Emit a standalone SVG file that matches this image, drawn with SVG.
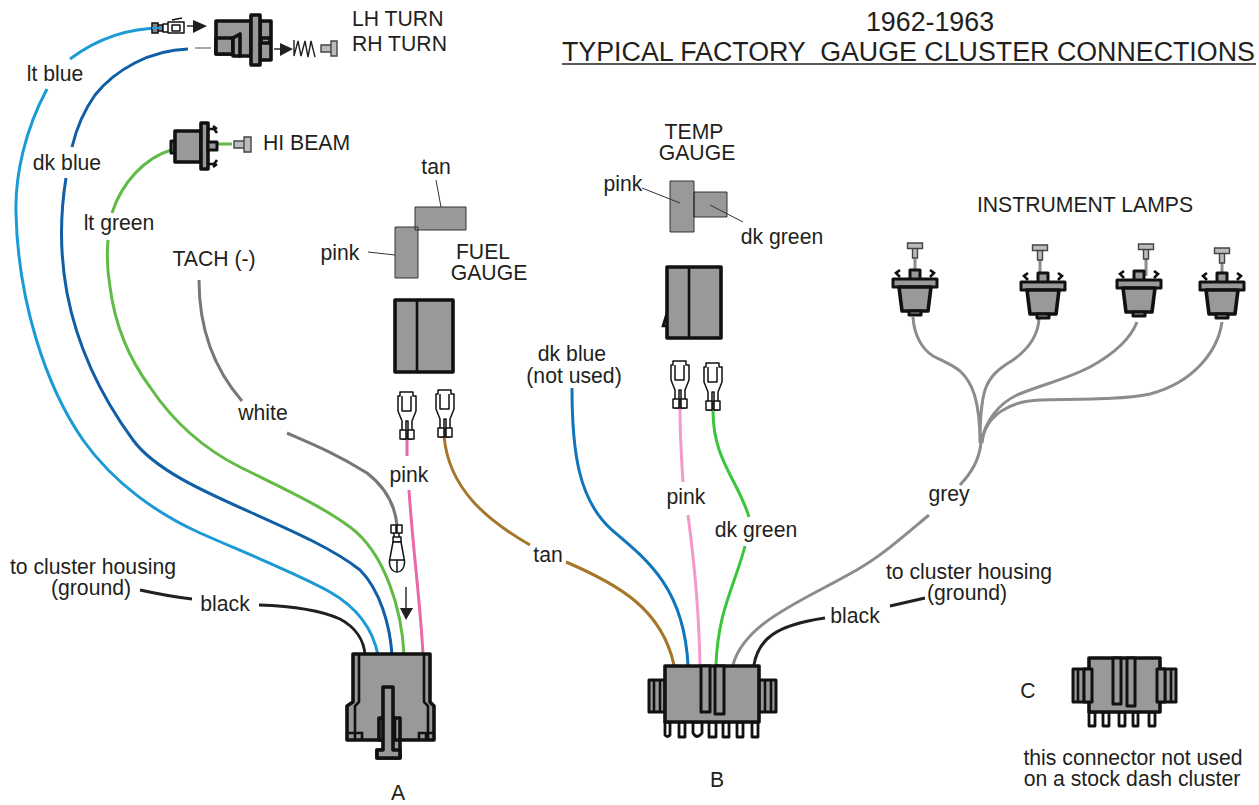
<svg xmlns="http://www.w3.org/2000/svg" width="1259" height="805" viewBox="0 0 1259 805">
<style>
text{font-family:"Liberation Sans",Arial,sans-serif;font-size:21.2px;fill:#231f20}
.m{text-anchor:middle}
.t{font-size:26.8px;white-space:pre}
.w{fill:none;stroke-width:3;stroke-linecap:butt}
.b{fill:#999;stroke:#111;stroke-width:3.600;stroke-linejoin:round}
.s{fill:#999;stroke:#111;stroke-width:3;stroke-linejoin:round}
.h{fill:none;stroke:#111;stroke-width:2.600}
.f{fill:#fff;stroke:#111;stroke-width:1.500;stroke-linejoin:round}
.p{fill:#fff;stroke:#111;stroke-width:2.800;stroke-linejoin:round}
.g{fill:#999;stroke:#222;stroke-width:.9}
.l{fill:#bbb;stroke:#444;stroke-width:1.400}
.ld{fill:none;stroke:#333;stroke-width:1}
.a{fill:#231f20}
.al{fill:none;stroke:#231f20;stroke-width:1.400}
</style>
<defs>
<g id="term">
<path class="f" d="M-9 4V19L-5 29V47H-1V29H1V47H5V29L9 19V4H6V0H-7V4Z"/>
<path class="f" d="M-5 4V19H4V4M-7 38H-1V47H-7ZM1 38H7V47H1Z"/>
</g>
<g id="lamp">
<path class="s" d="M-5 34V25H5V34"/>
<path class="s" d="M-22 34H22V42H-22Z"/>
<path class="b" d="M-16 42H16L13 66H-13Z"/>
<path class="s" d="M-6 66H6V70H-6Z"/>
<path class="h" d="M-15 25L-19 28L-15 32M15 25L19 28L15 32"/>
</g>
<g id="bulb"><path class="l" d="M-2.500 5H2.500V15H-2.500Z"/><path class="l" d="M-7.500 0H7.500V5.500H-7.500Z"/></g>
</defs>
<g id="connectors">
<path class="w" stroke="#1b9ad6" d="M162 28C130 28 98 38 70 59M47 89C25 130 15 175 16 213C18 300 45 385 83 440C115 485 160 515 200 533C250 555 300 575 330 592C358 608 373 630 378 655"/>
<path class="w" stroke="#0f5ea6" d="M188 49C150 50 115 70 95 95C83 112 76 130 72 147M66 178C60 215 60 255 67 293C77 345 100 395 133 440C155 470 205 492 250 512C295 532 335 550 360 570C380 590 390 625 392 655"/>
<path class="w" stroke="#62bb46" d="M171 150C145 158 122 182 112 213M108 240C106 262 108 275 110 287C115 325 130 360 150 387C170 417 200 447 240 467C280 487 320 505 350 527C385 553 402 610 404 655"/>
<path class="w" stroke="#62bb46" d="M217 144H232"/>
<path class="w" stroke="#e968a8" d="M407 438V456M409 490C413 550 421 610 423 655"/>
<path class="w" stroke="#a5772a" d="M444 435C448 490 490 522 530 545M566 562C620 585 662 610 674 665"/>
<path class="w" stroke="#0f75bc" d="M572 388C572 450 578 500 612 530C650 562 684 590 688 665"/>
<path class="w" stroke="#f49ac9" d="M680 408C680 440 682 465 683 482M688 515C694 560 699 610 700 665"/>
<path class="w" stroke="#39c63c" d="M713 411C713 460 738 480 749 517M745 546C735 585 718 610 716 665"/>
<path class="w" stroke="#8c8c8c" d="M733 665C745 620 810 598 860 568C885 553 905 535 929 515M960 485C972 472 979 460 981 443"/>
<path class="w" stroke="#8c8c8c" d="M913 317C914 335 922 349 933 356C945 362 953 365 960 371C972 382 980 400 980 443M1039 319C1038 335 1030 348 1013 360C1000 368 990 375 985 390C981 403 980 420 980 443M1137 322C1130 340 1112 355 1090 367C1065 380 1040 385 1017 395C1000 403 985 420 981 443M1222 322C1218 350 1195 382 1150 394C1120 400 1080 399 1040 400C1010 401 985 415 982 443"/>
<path class="w" stroke="#777" d="M199 280C199 330 215 370 242 401M287 433C310 443 335 453 367 473C385 487 395 505 397 525"/>
<path class="w" stroke="#231f20" d="M365 655C364 640 355 627 340 619C320 610 290 606 259 605M140 590C158 594 175 597 192 599"/>
<path class="w" stroke="#231f20" d="M754 665C758 640 775 625 825 618M890 606L925 598"/>
<path d="M195 48H211" stroke="#888" stroke-width="1.500"/>
<path class="w" stroke="#8c8c8c" d="M915 259V270M1040 258V278M1146 256V276M1222 260V278"/>
</g>
<g id="lh-turn-socket">
<path fill="#888" stroke="#111" stroke-width="1.500" d="M152 23H158V33H152ZM158 25H163V31H158Z"/>
<path class="f" d="M163 24H168V32H163ZM168 22H184V33H168ZM172 25H180V31H172ZM172 20L182 18"/>
<path d="M152 28H162" stroke="#1b9ad6" stroke-width="2"/>
<path class="al" d="M187 26H193"/><path class="a" d="M193 20L207 26L193 33Z"/>
<path class="b" d="M216 21H251V56H240L233 54H216Z"/>
<path class="b" d="M216 38H233V54H216Z"/><path class="b" d="M233 38L240 34V56H233Z"/>
<path class="b" d="M260 21H271V60H260Z"/>
<path class="b" d="M251 15H260V65H251Z"/>
<path class="b" d="M261 38H270V43H261Z"/>
<path class="al" d="M274 49H280"/><path class="a" d="M280 43L293 49L280 56Z"/>
<path class="al" d="M294 40V56L298 41L301 56L305 41L308 57L311 41L315 57"/>
<path class="l" d="M321 45H331V52H321ZM331 41H337V56H331Z"/>
</g>
<g id="hi-beam-socket">
<path class="s" d="M171 141H175V153H171Z"/>
<path class="b" d="M175 131H201V162H175Z"/>
<path class="b" d="M201 123H208V169H201Z"/>
<path class="s" d="M208 142H217V150H208Z"/>
<path class="h" d="M209 129H214L217 133M213 126L217 129M209 164H214L217 160M213 167L217 164"/>
<path class="l" d="M234 141H244V148H234ZM244 137H251V152H244Z"/>
</g>
<g id="fuel-gauge">
<path class="g" d="M415 207H466V230H415ZM395 227H418V278H395Z"/>
<path class="ld" d="M368 252L395 255M436 180L441 207"/>
<path class="b" d="M395 300H453V372H395Z"/><path class="h" stroke-width="3" d="M417 300V372"/>
<use href="#term" x="407" y="392"/><use href="#term" x="445" y="390"/>
</g>
<g id="temp-gauge">
<path class="g" d="M670 181H694V232H670ZM694 192H727V217H694Z"/>
<path class="ld" d="M642 188L680 203M710 205L743 222"/>
<path class="h" d="M667 313L663 326H667"/>
<path class="b" d="M667 267H721V338H667Z"/><path class="h" stroke-width="3" d="M689 267V338"/>
<use href="#term" x="680" y="361"/><use href="#term" x="713" y="363"/>
</g>
<g id="lamp-1"><use href="#bulb" x="915" y="243"/><use href="#lamp" x="915" y="245"/></g>
<g id="lamp-2"><use href="#bulb" x="1040" y="245"/><use href="#lamp" x="1043" y="248"/></g>
<g id="lamp-3"><use href="#bulb" x="1146" y="244"/><use href="#lamp" x="1139" y="246"/></g>
<g id="lamp-4"><use href="#bulb" x="1222" y="248"/><use href="#lamp" x="1222" y="248"/></g>
<g id="tach-terminal">
<path class="f" stroke-width="1.200" d="M391 525H396V533H391ZM397 525H402V533H397ZM393 537H401V542H393Z"/>
<path class="f" stroke-width="1.200" d="M394 533V537M399 533V537M393 542L390 558C388 566 392 572 397 572C402 572 406 566 404 558L401 542Z"/>
<path class="f" stroke-width="1.200" d="M397 560V572M390 560H404"/>
</g>
<g id="arrow"><path class="al" stroke="#555" d="M406 587V608"/><path class="a" d="M400 608H413L406 620Z"/></g>
<g id="connector-a">
<path class="b" d="M353 654H430V702L434 706V740H400V758H377V750H384V740H347V706L353 702Z"/>
<path class="h" stroke-width="2.800" d="M359 654V702L355 706V740M424 654V702L428 706V740M347 733H362V740M355 733V740M434 733H419V740M426 733V740"/>
<path class="b" d="M379 718H400V740H379Z"/>
<path class="h" d="M384 718V740M395 718V740"/>
<path class="b" d="M383 687H393V750H400V758H377V750H383Z"/>
</g>
<g id="connector-b">
<path class="s" d="M649 680H665V712H649ZM759 680H776V712H759Z"/>
<path class="h" d="M654 680V712M660 680V712M765 680V712M771 680V712"/>
<path class="p" d="M665 722V735Q667 738 670 735V722ZM679 722V737H685V722ZM693 722V733Q697 740 702 733V722ZM709 722V737H716V722ZM723 722V737H729V722ZM737 722V737H743V722ZM752 722V737H758V722Z"/>
<path class="b" d="M665 666H759V722H665Z"/>
<path class="s" d="M701 666H710V712H701ZM715 666H724V714H715Z"/>
</g>
<g id="connector-c">
<path class="s" d="M1073 669H1092V702H1073ZM1157 669H1176V702H1157Z"/>
<path class="h" d="M1078 669V702M1084 669V702M1165 669V702M1171 669V702"/>
<path class="p" d="M1089 712V726H1095V712ZM1103 712V726H1109V712ZM1119 712V726H1125V712ZM1133 712V726H1138V712ZM1149 712V726H1155V712Z"/>
<path class="b" stroke-width="2.800" d="M1089 658H1160V712H1089Z"/>
<path class="s" d="M1113 658H1121V704H1113ZM1127 658H1135V706H1127Z"/>
<path class="s" d="M1157 669H1165V702H1157ZM1084 669H1092V702H1084Z"/>
</g>
<g id="labels">
<text x="352" y="26">LH TURN</text><text x="352" y="51">RH TURN</text>
<text class="m t" x="930" y="31">1962-1963</text>
<text class="t" x="562" y="61">TYPICAL FACTORY  GAUGE CLUSTER CONNECTIONS</text>
<path d="M562 64H1256" stroke="#231f20" stroke-width="1.500"/>
<text x="263" y="150">HI BEAM</text>
<text class="m" x="55" y="81">lt blue</text>
<text class="m" x="67" y="170">dk blue</text>
<text class="m" x="119" y="230">lt green</text>
<text class="m" x="214" y="266">TACH (-)</text>
<text class="m" x="263" y="420">white</text>
<text class="m" x="436" y="174">tan</text>
<text class="m" x="340" y="260">pink</text>
<text class="m" x="483" y="259">FUEL</text><text class="m" x="489" y="280">GAUGE</text>
<text class="m" x="694" y="139">TEMP</text><text class="m" x="697" y="160">GAUGE</text>
<text class="m" x="623" y="191">pink</text>
<text class="m" x="782" y="244">dk green</text>
<text class="m" x="1085" y="212">INSTRUMENT LAMPS</text>
<text class="m" x="572" y="361">dk blue</text><text class="m" x="574" y="383">(not used)</text>
<text class="m" x="409" y="482">pink</text>
<text class="m" x="686" y="504">pink</text>
<text class="m" x="756" y="537">dk green</text>
<text class="m" x="949" y="501">grey</text>
<text class="m" x="548" y="562">tan</text>
<text class="m" x="93" y="574">to cluster housing</text><text class="m" x="91" y="595">(ground)</text>
<text class="m" x="225" y="611">black</text>
<text class="m" x="855" y="623">black</text>
<text class="m" x="969" y="579">to cluster housing</text><text class="m" x="967" y="600">(ground)</text>
<text class="m" x="398" y="800">A</text>
<text class="m" x="717" y="787">B</text>
<text class="m" x="1028" y="698">C</text>
<text class="m" x="1133" y="765">this connector not used</text>
<text class="m" x="1132" y="786">on a stock dash cluster</text>
</g>
</svg>
